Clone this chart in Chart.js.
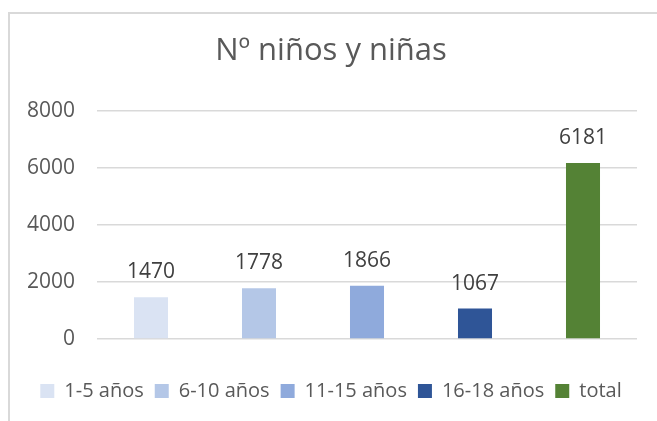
<!DOCTYPE html>
<html>
<head>
<meta charset="utf-8">
<script src="https://cdn.jsdelivr.net/npm/chart.js@4/dist/chart.umd.min.js"></script>
<style>
  html, body { margin: 0; padding: 0; background: #ffffff; overflow: hidden; }
  #frame { position: absolute; left: 8px; top: 12px; width: 700px; height: 500px;
           border-left: 2px solid #d9d9d9; border-top: 2px solid #d9d9d9; box-sizing: border-box; }
  #c { position: absolute; left: 0; top: 0; }
</style>
</head>
<body>
<div id="frame"></div>
<canvas id="c" width="657" height="421"></canvas>
<script>
const chartTitle = 'Nº niños y niñas';
const categories = [''];
const seriesNames = ['1-5 años', '6-10 años', '11-15 años', '16-18 años', 'total'];
const seriesValues = [1470, 1778, 1866, 1067, 6181];
const seriesColors = ['#DAE3F3', '#B4C7E7', '#8FAADC', '#2F5597', '#548235'];
const yTicks = [0, 2000, 4000, 6000, 8000];

const FONT = "'Open Sans', sans-serif";

const valueLabels = {
  id: 'valueLabels',
  afterDatasetsDraw(chart) {
    const ctx = chart.ctx;
    ctx.save();
    ctx.font = "21px " + FONT;
    ctx.fillStyle = '#404040';
    ctx.textAlign = 'center';
    ctx.textBaseline = 'alphabetic';
    chart.data.datasets.forEach((ds, i) => {
      const meta = chart.getDatasetMeta(i);
      meta.data.forEach((el, j) => {
        ctx.fillText(String(ds.data[j]), el.x, el.y - 19);
      });
    });
    ctx.restore();
  }
};

new Chart(document.getElementById('c'), {
  type: 'bar',
  data: {
    labels: categories,
    datasets: seriesNames.map((name, i) => ({
      label: name,
      data: [seriesValues[i]],
      backgroundColor: seriesColors[i],
      borderWidth: 0,
      barPercentage: 0.315,
      categoryPercentage: 1.0
    }))
  },
  options: {
    responsive: false,
    animation: false,
    layout: { padding: { left: 25, right: 20, top: 14, bottom: 10 } },
    plugins: {
      title: {
        display: true,
        text: chartTitle,
        color: '#595959',
        font: { family: FONT, size: 31, weight: 'normal' },
        padding: { top: 19, bottom: 41 }
      },
      legend: {
        position: 'bottom',
        labels: {
          color: '#595959',
          font: { family: FONT, size: 20 },
          boxWidth: 14,
          boxHeight: 14,
          padding: 11
        }
      },
      tooltip: { enabled: false }
    },
    scales: {
      x: {
        ticks: { display: false },
        grid: { display: false },
        border: { display: false },
        afterFit(axis) { axis.height = 31; }
      },
      y: {
        min: yTicks[0],
        max: yTicks[yTicks.length - 1],
        afterBuildTicks(axis) { axis.ticks = yTicks.map(v => ({ value: v })); },
        afterFit(axis) { axis.width = 72; },
        ticks: {
          color: '#595959',
          font: { family: FONT, size: 21 },
          padding: 22,
          callback: (v) => String(v)
        },
        grid: { color: '#d9d9d9', lineWidth: 1.5, drawTicks: false },
        border: { display: false }
      }
    }
  },
  plugins: [valueLabels]
});
</script>
</body>
</html>
